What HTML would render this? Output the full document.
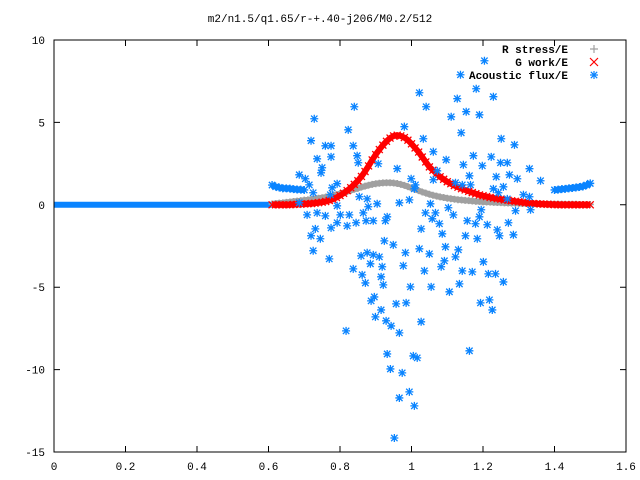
<!DOCTYPE html>
<html><head><meta charset="utf-8"><style>
body{margin:0;background:#fff}
svg{display:block;font-family:"Liberation Mono",monospace;font-size:11px}
</style></head><body>
<svg id="chart" width="640" height="480" xmlns="http://www.w3.org/2000/svg">
<rect width="640" height="480" fill="#fff"/>
<text x="320" y="22" text-anchor="middle">m2/n1.5/q1.65/r-+.40-j206/M0.2/512</text>
<g id="axes"></g>
<g id="marks"></g>
<g id="legend" font-weight="bold">
<text x="568" y="53" text-anchor="end">R stress/E</text>
<text x="568" y="66" text-anchor="end">G work/E</text>
<text x="568" y="79" text-anchor="end">Acoustic flux/E</text>
</g>
<rect x="54" y="40" width="572" height="412" fill="none" stroke="#000" stroke-width="1"/>
</svg>
<script>
const xTicks=[0,0.2,0.4,0.6,0.8,1,1.2,1.4,1.6];
const xTickLabels=["0","0.2","0.4","0.6","0.8","1","1.2","1.4","1.6"];
const yTicks=[10,5,0,-5,-10,-15];
const yTickLabels=["10","5","0","-5","-10","-15"];
const curveStart=0.61, curveStep=0.01;
const gWork=[0,0,0,0,0,0,0.02,0.03,0.04,0.05,
0.06,0.08,0.1,0.13,0.16,0.2,0.26,0.34,0.44,0.56,
0.7,0.86,1.04,1.24,1.46,1.72,2.02,2.36,2.72,3.05,
3.35,3.62,3.85,4.05,4.18,4.22,4.18,4.08,3.92,3.7,
3.45,3.2,2.9,2.6,2.3,2.1,1.9,1.7,1.55,1.4,
1.28,1.17,1.07,0.98,0.9,0.82,0.74,0.67,0.6,0.55,
0.5,0.45,0.41,0.37,0.34,0.3,0.27,0.24,0.21,0.18,
0.15,0.12,0.1,0.08,0.06,0.05,0.04,0.03,0.02,0.01,
0,0,0,0,0,0,0,0,0,0];
const rStress=[0.05,0.08,0.1,0.12,0.15,0.17,0.2,0.22,0.25,0.28,
0.3,0.33,0.36,0.4,0.43,0.47,0.52,0.57,0.62,0.68,
0.74,0.8,0.87,0.94,1.0,1.07,1.13,1.19,1.24,1.28,
1.31,1.33,1.34,1.34,1.32,1.29,1.24,1.18,1.1,1.02,
0.94,0.86,0.78,0.71,0.64,0.58,0.53,0.48,0.44,0.4,
0.37,0.34,0.31,0.29,0.27,0.25,0.23,0.21,0.2,0.18,
0.17,0.16,0.15,0.14,0.13,0.12,0.11,0.1,0.1,0.09,
0.08,0.08,0.07,0.07,0.06,0.06,0.05,0.05,0.05,0.04,
0.04,0.04,0.03,0.03,0.03,0.03,0.02,0.02,0.02,0.02];
const fluxBaseX=[0,0.61];
const fluxBaseY=[0,0];
const fluxLeftStart=0.61;
const fluxLeft=[1.2,1.1,1.05,1.0,1.0,0.98,0.95,0.93,0.92,0.9];
const fluxRightStart=1.40;
const fluxRight=[0.9,0.92,0.95,0.97,1.0,1.02,1.05,1.08,1.12,1.2,1.3];
const fluxX=[1.204,1.137,1.022,1.128,1.181,1.229,1.041,0.840,1.153,1.111,1.190,0.728,0.823,0.980,1.139,0.719,1.033,1.251,0.759,0.775,0.837,1.288,0.848,0.736,0.775,1.061,1.097,1.173,1.223,0.851,0.907,0.750,1.145,1.198,1.249,1.268,0.960,1.072,1.330,0.747,1.162,1.274,0.686,0.703,0.999,1.237,1.296,1.061,1.011,1.123,1.142,1.165,0.714,0.792,0.778,1.008,1.361,1.257,0.725,0.773,0.854,0.876,0.966,0.994,0.904,1.053,1.243,1.268,1.313,1.330,0.792,0.686,1.229,
0.708,0.736,0.759,0.801,0.826,0.865,0.879,0.932,0.927,0.792,0.775,0.820,0.845,0.873,0.893,0.731,0.719,0.745,1.039,1.067,1.058,1.078,1.117,1.103,1.195,1.156,1.179,1.212,1.190,1.027,1.086,1.151,1.184,1.240,1.246,1.271,1.285,1.291,1.333,0.924,0.949,0.725,0.770,0.983,1.022,1.050,1.095,1.131,1.123,0.859,0.876,0.893,0.910,0.885,0.837,0.918,0.977,1.036,1.092,1.083,1.142,1.170,1.201,1.215,1.235,1.257,0.862,0.915,0.871,0.921,0.997,1.055,1.106,1.134,0.896,0.887,0.957,0.985,1.193,1.218,1.226,0.915,0.899,0.929,0.943,0.966,1.027,0.817,0.932,1.005,1.016,1.162,0.941,0.974,0.994,0.966,1.008,0.952];
const fluxY=[8.74,7.89,6.80,6.44,7.04,6.56,5.95,5.95,5.65,5.34,5.46,5.22,4.55,4.74,4.37,3.89,4.01,4.01,3.58,3.58,3.58,3.64,2.98,2.79,2.91,3.22,2.73,2.98,2.91,2.55,2.49,2.25,2.43,2.37,2.55,2.55,2.19,2.06,2.19,1.94,1.76,1.82,1.82,1.58,1.58,1.70,1.58,1.52,1.21,1.34,1.21,1.21,1.21,1.28,1.03,0.97,1.46,1.09,0.73,0.61,0.49,0.36,0.12,0.30,0.06,0.06,0.73,0.36,0.61,0.49,-0.06,0.12,0.97,
-0.61,-0.49,-0.67,-0.61,-0.61,-0.49,-0.12,-0.73,-0.97,-1.09,-1.40,-1.28,-1.09,-0.97,-0.97,-1.46,-1.88,-2.06,-0.49,-0.49,-0.85,-1.15,-0.61,-0.18,-0.30,-0.97,-1.15,-1.21,-0.73,-1.46,-1.76,-1.88,-2.06,-1.52,-1.88,-1.09,-1.82,-0.36,-0.30,-2.19,-2.43,-2.79,-3.28,-2.91,-2.67,-2.98,-2.55,-2.73,-3.16,-3.10,-2.91,-3.04,-3.16,-3.58,-3.89,-3.76,-3.70,-4.01,-3.40,-3.76,-4.01,-4.07,-3.46,-4.19,-4.19,-4.68,-4.25,-4.37,-4.74,-4.86,-4.98,-4.98,-5.28,-4.80,-5.59,-5.83,-6.01,-5.95,-5.95,-5.77,-6.38,-6.38,-6.80,-7.04,-7.35,-7.77,-7.10,-7.65,-9.05,-9.17,-9.29,-8.86,-9.96,-10.2,-11.35,-11.72,-12.2,-14.15];

const NS="http://www.w3.org/2000/svg";
const X0=54,X1=626,Y0=452,Y1=40;
const xs=v=>X0+(v-0)/(1.6-0)*(X1-X0);
const ys=v=>Y0-(v+15)/(25)*(Y0-Y1);
function mk(tag,attrs,parent){const e=document.createElementNS(NS,tag);for(const k in attrs)e.setAttribute(k,attrs[k]);parent.appendChild(e);return e;}
const axes=document.getElementById('axes'), marks=document.getElementById('marks');
xTicks.forEach((t,i)=>{const x=xs(t);
 const l=mk('path',{d:`M${x},${Y0}v-6M${x},${Y1}v6`,stroke:'#000',fill:'none'},axes);
 
 const tx=mk('text',{x:x,y:470,'text-anchor':'middle'},axes);tx.textContent=xTickLabels[i];
 });
yTicks.forEach((t,i)=>{const y=ys(t);
 const l=mk('path',{d:`M${X0},${y}h6M${X1},${y}h-6`,stroke:'#000',fill:'none'},axes);
 
 const tx=mk('text',{x:45,y:y+4,'text-anchor':'end'},axes);tx.textContent=yTickLabels[i];
 });
function plus(x,y,s){return `M${x-s},${y}h${2*s}M${x},${y-s}v${2*s}`;}
function cross(x,y,s){return `M${x-s},${y-s}l${2*s},${2*s}M${x-s},${y+s}l${2*s},${-2*s}`;}
function star(x,y,s){return plus(x,y,s)+cross(x,y,s*0.8);}
function series(name,pts,fn,size,color,w){let d='';pts.forEach(p=>{d+=fn(xs(p[0]),ys(p[1]),size);});
 const e=mk('path',{d:d,stroke:color,'stroke-width':w,fill:'none'},marks);
 return e;}
function band(name,pts,color,w){const d=pts.map((p,i)=>(i?'L':'M')+xs(p[0])+','+ys(p[1])).join('');
 const e=mk('path',{d:d,stroke:color,'stroke-width':w,fill:'none','stroke-linejoin':'round'},marks);
 return e;}
const bl=mk('path',{d:`M${xs(fluxBaseX[0])},${ys(fluxBaseY[0])}L${xs(fluxBaseX[1])},${ys(fluxBaseY[1])}`,stroke:'#0a84ff','stroke-width':6,fill:'none'},marks);

const fl=fluxLeft.map((v,i)=>[fluxLeftStart+i*curveStep,v]);
const fr=fluxRight.map((v,i)=>[fluxRightStart+i*curveStep,v]);
const fs=fluxX.map((v,i)=>[v,fluxY[i]]);
const rs=rStress.map((v,i)=>[curveStart+i*curveStep,v]);
const gw=gWork.map((v,i)=>[curveStart+i*curveStep,v]);
band('acoustic-flux-band-left-fill',fl,'#0a84ff',6);
band('acoustic-flux-band-right-fill',fr,'#0a84ff',6);
series('acoustic-flux-band-left',fl,star,4,'#0a84ff',1.4);
series('acoustic-flux-band-right',fr,star,4,'#0a84ff',1.4);
band('r-stress-band',rs,'#a0a0a0',6);
series('r-stress-series',rs,plus,3.5,'#a0a0a0',1.6);
band('g-work-band',gw,'#ff0000',6);
series('g-work-series',gw,cross,3.5,'#ff0000',1.3);
series('acoustic-flux-scatter',fs,star,4,'#0a84ff',1.3);
const lg=document.getElementById('legend');
[[plus,'#a0a0a0',49,'legend-marker-r-stress'],[cross,'#ff0000',62,'legend-marker-g-work'],[star,'#0a84ff',75,'legend-marker-acoustic-flux']].forEach(a=>{
 const e=mk('path',{d:a[0](594,a[2],4),stroke:a[1],'stroke-width':1.2,fill:'none'},lg);
 });
</script>
</body></html>
